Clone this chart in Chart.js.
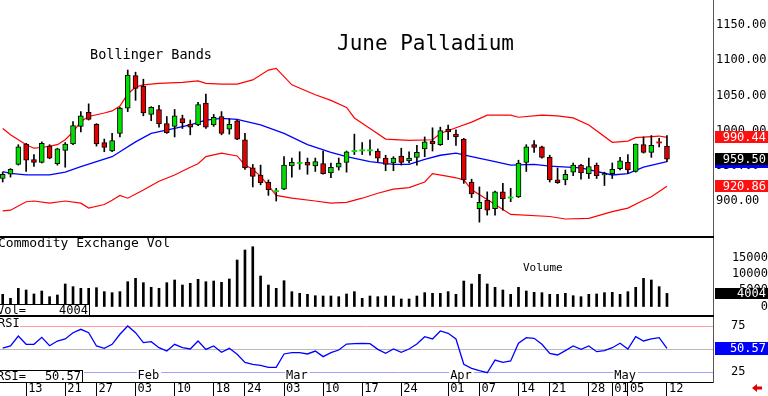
<!DOCTYPE html>
<html>
<head>
<meta charset="utf-8">
<script src="https://cdn.jsdelivr.net/npm/chart.js@4.4.1/dist/chart.umd.min.js"></script>
<style>
  body { margin: 0; background: #fff; }
  #wrap { position: relative; width: 768px; height: 396px; overflow: hidden; background: #fff; }
  canvas { position: absolute; left: 0; }
  .sep { position: absolute; left: 0; width: 714px; height: 2px; background: #000; }
</style>
</head>
<body>
<div id="wrap">
  <canvas id="price" width="768" height="237" style="top:0"></canvas>
  <canvas id="vol" width="768" height="79" style="top:237px"></canvas>
  <canvas id="rsi" width="768" height="80" style="top:316px"></canvas>
  <div class="sep" style="top:236px"></div>
  <div class="sep" style="top:315px"></div>
</div>
<script>
// daily candles, one per trading day (index 0..85)
const openP  = [932,938,952,981,959,955,978,953,972,981, 1006,1026,1009,983,971,996,1032,1078,1063,1023,
                1030,1010,1006,1017,1009,1008,1039,1008,1020,1002, 1014,987,947,937,927,914,917,950,954,955,
                950,953,940,948,955,971,972,972,971,961, 954,964,957,962,974,985,980,1002,995,988,
                927,889,901,889,913,905,906,955,980,977, 962,930,930,941,951,939,951,937,939,946,
                955,942,980,969,983.4,978];
const highP  = [941,946,980,982,966,984,980,975,983,1013, 1027,1038,1010,988,996,1033,1086,1083,1073,1034,
                1036,1020,1030,1022,1015,1040,1052,1023,1027,1017, 1015,996,952,951,930,918,963,961,970,961,
                961,971,954,961,971,995,983,987,974,965, 963,975,970,979,991,1004,1005,1008,1001,989,
                931,920,913,914,925,918,958,980,986,978, 965,947,944,954,952,961,954,941,954,962,
                966,981,991,993,989,993];
const lowP   = [927,934,951,942,949,954,960,951,948,980, 998,1015,978,970,970,991,1027,1043,1021,1014,
                1005,996,991,1003,994,1007,1003,1006,994,995, 987,945,920,923,908,900,916,934,945,938,
                942,938,933,944,941,966,966,965,956,943, 943,951,954,951,963,971,979,987,979,925,
                905,870,880,880,887,899,905,942,969,961, 927,925,923,936,931,932,932,922,932,944,
                939,941,968,962,977,956];
const closeP = [938,945,977,958,955,982,961,974,981,1007, 1021,1016,981,976,986,1032,1079,1060,1025,1033,
                1010,997,1021,1011,1005,1037,1005,1019,996,1009, 988,947,935,926,916,914,951,955,954,951,
                956,939,948,954,970,971,972,972,961,952, 961,955,961,969,984,981,1000,998,991,930,
                910,898,887,913,903,905,954,977,976,962, 930,926,938,951,940,949,936,939,945,957,
                944,981,969,979,983,959.5];
const volume = [3730,2500,5570,5050,3830,4740,3000,3520,6890,6070,
                5570,5570,5760,4540,4230,4540,7590,8620,7290,5870,
                5570,7290,8110,6580,7100,8320,7590,7800,7400,8420,
                14230,17290,18300,9330,6580,5570,7900,4540,4040,3730,
                3300,3210,3210,3000,3830,4540,2500,3210,3000,3210,
                3210,2300,2300,3210,4230,4040,4040,4540,3730,7800,
                6890,9850,6890,5870,5050,3730,5870,4740,4340,4230,
                3730,3730,4040,3300,3000,3730,3830,4230,4340,3730,
                4540,5870,8620,8110,6070,4004];
const rsi    = [51,53.3,64.1,55.1,55.1,62.7,53.6,58.7,60.9,67.7,
                71.4,67.7,53.3,50.7,55.1,66,75,67.7,56.9,58,
                51.4,47.8,55.1,51.4,50,58.7,49.6,53.3,46.4,50.7,
                44.2,35.5,33.4,32.3,30.1,30.1,44.6,46,46,44.6,
                47.8,41.7,46,48.9,55.4,55.8,56.2,55.8,49.6,45.3,
                50,46.4,50,55.4,63.4,60.9,69.6,67.1,60.9,33.4,
                29,26.4,24.2,38,35.5,37,56.2,62.3,61.6,55.1,
                45.3,43.5,48.2,53.3,49.6,53.3,47.1,48.2,51.4,56.2,
                50,63.4,58.7,60.9,62.3,50.57];

// Bollinger bands at the days given in *Idx
const upperIdx = [0,1,3,4,5,7,8,9,10,11,13,14,15,16,17,18,20,23,25,26,28,30,32,34,35,37,40,42,44,45,47,49,52,55,56,58,60,62,65,66,69,71,73,75,78,80,81,84,85];
const upperVal = [1003,994,980,975,976,980,987,998,1013,1020,1025,1028,1035,1052,1062,1065,1067,1068.6,1070.5,1067,1066,1066,1072,1086,1088.5,1065,1051,1043,1033,1018,1003,988,986,987,996,1004,1012,1022,1022,1019,1022,1021,1018,1008,983.4,985,990,992.3,990.44];
const midIdx   = [0,1,3,6,8,10,12,14,15,17,19,22,24,26,28,30,33,36,39,42,44,47,50,52,54,56,58,60,63,65,68,70,74,78,80,82,85];
const midVal   = [941.6,939.3,937,937,941,948.7,955.8,962.9,970,984,996,1003.3,1008,1015,1017.5,1016,1008,996,980,969,963,956,952,952,959,965,968,963,956,951,952,949.5,947,937,939,948,955.8];
const lowerIdx = [0,1,3,4,6,8,10,11,13,14,15,16,18,20,22,24,25,26,28,30,31,32,33,34,35,37,40,42,44,46,48,50,52,54,55,57,58,59,60,62,65,70,72,75,78,80,82,83,85];
const lowerVal = [886,887,899,900,897,900,897,890,895,901,908,904,915.6,928,937,948,953,963,968,964,951,945,935,922,908,904,900,897,898,904,911,917,919,927,939,935,933,930,916,902,881,878,874.5,875.4,885,890,901,906,920.86];

// axis labels
const priceTicks = [900, 950, 1000, 1050, 1100, 1150];
const volTicks = [0, 5000, 10000, 15000];
const rsiTicks = [25, 75];
const tickIdx = [3,8,12,17,22,27,31,36,41,46,51,57,61,66,70,75,78,80,85];
const tickLabels = ['13','21','27','03','10','18','24','03','10','17','24','01','07','14','21','28','01','05','12'];
const monthIdx = [17, 36, 57, 78];
const monthLabels = ['Feb', 'Mar', 'Apr', 'May'];

const MONO = "'DejaVu Sans Mono', monospace";
const X_MIN = -0.345, X_MAX = 90.89;
const GREEN = '#00e000', RED = '#e00000';

const isDoji = i => Math.abs(openP[i] - closeP[i]) < 1.2;
function bodyRange(i) {
  const o = openP[i], c = closeP[i];
  if (isDoji(i)) { const m = (o + c) / 2; return [m - 0.8, m + 0.8]; }
  return [Math.min(o, c), Math.max(o, c)];
}
const pts = (xs, ys) => xs.map((x, k) => ({ x: x, y: ys[k] }));

function noPad(s) { s.paddingTop = 0; s.paddingBottom = 0; s.paddingLeft = 0; s.paddingRight = 0; }
function xHidden() {
  return { type: 'linear', min: X_MIN, max: X_MAX, display: false, offset: false };
}
function rightAxis(min, max, ticks, extra) {
  return Object.assign({
    position: 'right', min: min, max: max,
    afterFit: s => { s.width = 55; noPad(s); },
    afterBuildTicks: s => { s.ticks = ticks.map(v => ({ value: v })); },
    grid: { display: false, drawTicks: false },
    border: { display: true, color: '#555', width: 1 }
  }, extra);
}
function tag(ctx, y, bg, text, h) {
  ctx.fillStyle = bg;
  ctx.fillRect(715, Math.round(y - h / 2), 53, h);
  if (text) {
    ctx.fillStyle = '#fff';
    ctx.font = '12px ' + MONO;
    ctx.textAlign = 'right';
    ctx.textBaseline = 'middle';
    ctx.fillText(text, 766, y + 0.5);
  }
}
function txt(ctx, s, x, y, size, align) {
  ctx.fillStyle = '#000';
  ctx.font = size + 'px ' + MONO;
  ctx.textAlign = align || 'left';
  ctx.textBaseline = 'middle';
  ctx.fillText(s, x, y);
}

const common = {
  responsive: false, animation: false, events: [],
  layout: { padding: 0 },
  plugins: { legend: { display: false }, tooltip: { enabled: false } }
};

// ---- price panel
new Chart(document.getElementById('price'), {
  type: 'bar',
  data: {
    datasets: [
      {
        data: closeP.map((c, i) => ({ x: i, y: bodyRange(i) })),
        backgroundColor: closeP.map((c, i) => c >= openP[i] ? GREEN : RED),
        borderColor: '#000',
        borderWidth: ctx => isDoji(ctx.dataIndex) ? 0 : 1,
        borderSkipped: false, barThickness: 5, grouped: false
      },
      {
        data: closeP.map((c, i) => ({ x: i, y: [lowP[i], highP[i]] })),
        backgroundColor: '#000', borderWidth: 0, barThickness: 1, grouped: false
      },
      { type: 'line', data: pts(upperIdx, upperVal), borderColor: '#ff0000', borderWidth: 1.2, pointRadius: 0 },
      { type: 'line', data: pts(midIdx, midVal), borderColor: '#0000ff', borderWidth: 1.3, pointRadius: 0 },
      { type: 'line', data: pts(lowerIdx, lowerVal), borderColor: '#ff0000', borderWidth: 1.2, pointRadius: 0 }
    ]
  },
  options: Object.assign({}, common, {
    scales: {
      x: xHidden(),
      y: rightAxis(848.9, 1185.5, priceTicks, {
        ticks: { callback: v => v.toFixed(2), font: { family: MONO, size: 12 }, color: '#000', padding: 3, crossAlign: 'near' }
      })
    }
  }),
  plugins: [{
    id: 'priceDeco',
    afterDraw(chart) {
      const ctx = chart.ctx, y = chart.scales.y;
      txt(ctx, 'June Palladium', 337, 45, 21);
      txt(ctx, 'Bollinger Bands', 90, 55, 13.5);
      const n = closeP.length - 1;
      tag(ctx, y.getPixelForValue(midVal[midVal.length - 1]), '#0000ff', '', 12);
      tag(ctx, y.getPixelForValue(upperVal[upperVal.length - 1]), '#ff1010', upperVal[upperVal.length - 1].toFixed(2), 12);
      tag(ctx, y.getPixelForValue(lowerVal[lowerVal.length - 1]), '#ff1010', lowerVal[lowerVal.length - 1].toFixed(2), 12);
      tag(ctx, y.getPixelForValue(closeP[n]), '#000', closeP[n].toFixed(2), 12);
    }
  }]
});

// ---- volume panel
new Chart(document.getElementById('vol'), {
  type: 'bar',
  data: {
    datasets: [{
      data: volume.map((v, i) => ({ x: i, y: v })),
      backgroundColor: '#000', borderWidth: 0, barThickness: 2, grouped: false
    }]
  },
  options: Object.assign({}, common, {
    scales: {
      x: xHidden(),
      y: rightAxis(-2908, 21273, volTicks, {
        ticks: { callback: v => String(v), font: { family: MONO, size: 12 }, color: '#000', padding: 17, crossAlign: 'far' }
      })
    }
  }),
  plugins: [{
    id: 'volDeco',
    afterDraw(chart) {
      const ctx = chart.ctx, y = chart.scales.y;
      const last = volume[volume.length - 1];
      txt(ctx, 'Commodity Exchange Vol', -2, 7, 13);
      txt(ctx, 'Volume', 523, 31, 11);
      ctx.fillStyle = '#fff';
      ctx.fillRect(0, 67, 90, 12);
      ctx.strokeStyle = '#000'; ctx.lineWidth = 1;
      ctx.strokeRect(-1, 67.5, 90.5, 12);
      txt(ctx, 'Vol=', -3, 73.5, 12);
      txt(ctx, String(last), 88, 73.5, 12, 'right');
      tag(ctx, y.getPixelForValue(last), '#000', String(last), 11);
    }
  }]
});

// ---- RSI panel with the date axis
new Chart(document.getElementById('rsi'), {
  type: 'line',
  data: {
    datasets: [{
      data: rsi.map((v, i) => ({ x: i, y: v })),
      borderColor: '#0000ff', borderWidth: 1.3, pointRadius: 0
    }]
  },
  options: Object.assign({}, common, {
    scales: {
      x: {
        type: 'linear', min: X_MIN, max: X_MAX, offset: false, position: 'bottom',
        afterFit: s => { s.height = 14; noPad(s); },
        afterBuildTicks: s => { s.ticks = tickIdx.map(v => ({ value: v })); },
        grid: { drawOnChartArea: false, drawTicks: true, tickLength: 14, color: '#000', tickColor: '#000' },
        border: { display: true, color: '#000', width: 1 },
        ticks: {
          autoSkip: false, maxRotation: 0, align: 'start', labelOffset: 2, padding: -14,
          font: { family: MONO, size: 12 }, color: '#000',
          callback: v => { const k = tickIdx.indexOf(v); return k >= 0 ? tickLabels[k] : ''; }
        }
      },
      y: rightAxis(14.13, 85.87, rsiTicks, {
        ticks: { font: { family: MONO, size: 12 }, color: '#000', padding: 18, crossAlign: 'near' }
      })
    }
  }),
  plugins: [{
    id: 'rsiDeco',
    beforeDatasetsDraw(chart) {
      const ctx = chart.ctx, y = chart.scales.y, r = chart.chartArea.right;
      const line = (v, x0, col) => {
        const py = Math.round(y.getPixelForValue(v)) + 0.5;
        ctx.strokeStyle = col; ctx.lineWidth = 1;
        ctx.beginPath(); ctx.moveTo(x0, py); ctx.lineTo(r, py); ctx.stroke();
      };
      line(75, 20, '#ffa0a0');
      line(50, 0, '#b8b8b8');
      line(25, 84, '#a0a0ff');
    },
    afterDraw(chart) {
      const ctx = chart.ctx, y = chart.scales.y, x = chart.scales.x;
      txt(ctx, 'RSI', -2, 8, 12);
      ctx.font = '12px ' + MONO;
      monthLabels.forEach((m, k) => {
        const px = x.getPixelForValue(monthIdx[k]) + 2;
        ctx.fillStyle = '#fff';
        ctx.fillRect(px - 1, 54, ctx.measureText(m).width + 3, 11);
        txt(ctx, m, px, 60, 12);
      });
      const last = rsi[rsi.length - 1];
      ctx.fillStyle = '#fff';
      ctx.fillRect(0, 54, 83, 12);
      ctx.strokeStyle = '#000'; ctx.lineWidth = 1;
      ctx.strokeRect(-1, 54.5, 83.5, 12);
      txt(ctx, 'RSI=', -3, 60.5, 12);
      txt(ctx, last.toFixed(2), 81, 60.5, 12, 'right');
      tag(ctx, y.getPixelForValue(last), '#0000ff', last.toFixed(2), 13);
      // small red arrow, bottom right
      ctx.fillStyle = '#e00000';
      ctx.beginPath();
      ctx.moveTo(752, 72); ctx.lineTo(757, 68); ctx.lineTo(757, 70.5); ctx.lineTo(762, 70.5);
      ctx.lineTo(762, 73.5); ctx.lineTo(757, 73.5); ctx.lineTo(757, 76); ctx.closePath();
      ctx.fill();
    }
  }]
});
</script>
</body>
</html>
